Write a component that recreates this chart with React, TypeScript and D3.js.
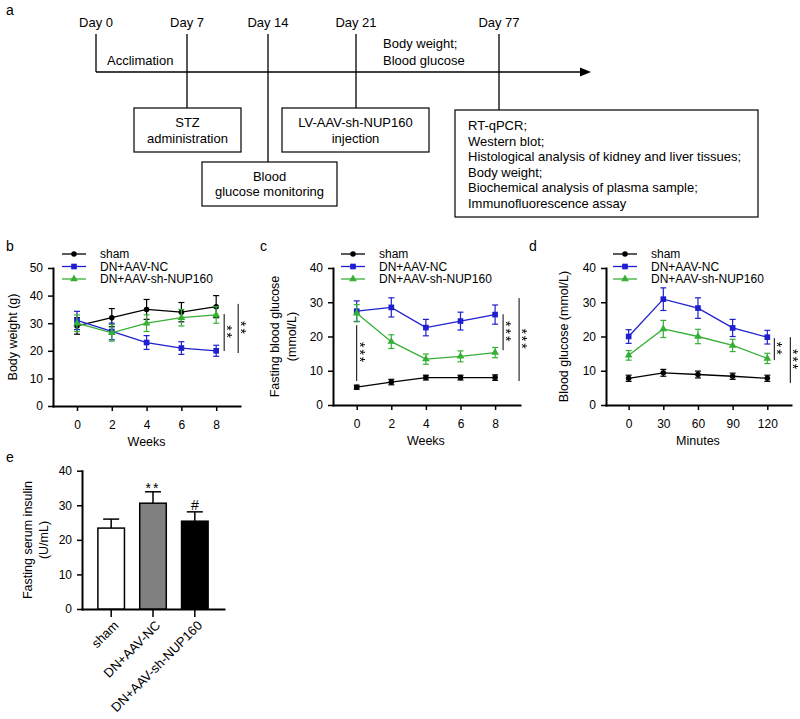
import React, { useRef, useEffect } from 'react';
import * as d3 from 'd3';

const FONT = '"Liberation Sans", Arial, Helvetica, sans-serif';
const W = 800;
const H = 719;

// groups shared by panels b-e
const groups = ['sham', 'DN+AAV-NC', 'DN+AAV-sh-NUP160'];
const groupColors = ['#000000', '#1f1fd0', '#35b035'];
const groupSymbols = [d3.symbolCircle, d3.symbolSquare, d3.symbolTriangle];
const symbolSizes = [24, 32, 26];

// panel b: body weight (g)
const weeks = [0, 2, 4, 6, 8];
const weightMean = [
  [29, 32, 35, 34, 36],
  [31, 27, 23, 21, 20],
  [30, 26.5, 30, 32, 33],
];
const weightErr = [
  [3, 3.3, 3.6, 3.5, 4],
  [3.3, 3, 2.5, 2.3, 2],
  [3, 3, 3, 3, 3],
];

// panel c: fasting blood glucose (mmol/L)
const fbgMean = [
  [5.2, 6.7, 8, 8, 8],
  [27.4, 28.5, 22.6, 24.5, 26.4],
  [26.8, 18.5, 13.4, 14.2, 15.3],
];
const fbgErr = [
  [0.6, 0.8, 0.7, 0.7, 0.8],
  [3, 2.8, 2.4, 2.6, 2.8],
  [2.5, 2, 1.5, 1.6, 1.5],
];

// panel d: blood glucose during tolerance test (mmol/L)
const minutes = [0, 30, 60, 90, 120];
const ogttMean = [
  [7.8, 9.4, 8.9, 8.4, 7.8],
  [20, 30.9, 28.3, 22.5, 19.8],
  [14.5, 22.2, 20, 17.4, 13.6],
];
const ogttErr = [
  [0.9, 1, 1, 0.9, 0.9],
  [2, 3.3, 3, 2.5, 2],
  [1.4, 2.5, 2.1, 1.8, 1.5],
];

// significance lines: x value, span (y values), label
const sigB = [
  { at: 8, from: 33.3, to: 19.9, label: '**' },
  { at: 8, from: 37, to: 19.2, label: '**' },
];
const sigC = [
  { at: 0, from: 23.3, to: 7, label: '***' },
  { at: 8, from: 26.5, to: 16, label: '***' },
  { at: 8, from: 31.2, to: 7, label: '***' },
];
const sigD = [
  { at: 120, from: 19.5, to: 13.1, label: '**' },
  { at: 120, from: 19.8, to: 6.4, label: '***' },
];

// panel e: fasting serum insulin (U/mL)
const insulinMean = [23.4, 30.6, 25.4];
const insulinErr = [2.6, 3.3, 2.7];
const insulinMarks = ['', '**', '#'];
const insulinTitle = ['Fasting serum insulin', '(U/mL)'];
const barFills = ['#ffffff', '#808080', '#000000'];

// panel a: timeline
const timelineDays = [0, 7, 14, 21, 77];
const dayLabels = ['Day 0', 'Day 7', 'Day 14', 'Day 21', 'Day 77'];
const boxTexts = [
  ['STZ', 'administration'],
  ['Blood', 'glucose monitoring'],
  ['LV-AAV-sh-NUP160', 'injection'],
  [
    'RT-qPCR;',
    'Western blot;',
    'Histological analysis of kidney and liver tissues;',
    'Body weight;',
    'Biochemical analysis of plasma sample;',
    'Immunofluorescence assay',
  ],
];

type Sel = d3.Selection<any, unknown, null, undefined>;

type LinePanel = {
  xVals: number[];
  means: number[][];
  errs: number[][];
  xDomain: [number, number];
  xRange: [number, number];
  yMax: number;
  yRange: [number, number];
  xTitle: string;
  yTitle: string[];
  yTitleX: number[];
  sig: { at: number; from: number; to: number; label: string }[];
  sigDx: number[];
  legendX: number;
};

const panelB: LinePanel = {
  xVals: weeks, means: weightMean, errs: weightErr,
  xDomain: [-1.38, 9.37], xRange: [53, 240], yMax: 50, yRange: [406, 268],
  xTitle: 'Weeks', yTitle: ['Body weight (g)'], yTitleX: [13],
  sig: sigB, sigDx: [8, 22], legendX: 62,
};
const panelC: LinePanel = {
  xVals: weeks, means: fbgMean, errs: fbgErr,
  xDomain: [-1.37, 9.44], xRange: [333, 520], yMax: 40, yRange: [405, 268],
  xTitle: 'Weeks', yTitle: ['Fasting blood glucose', '(mmol/L)'], yTitleX: [275, 292],
  sig: sigC, sigDx: [0, 8, 24], legendX: 341,
};
const panelD: LinePanel = {
  xVals: minutes, means: ogttMean, errs: ogttErr,
  xDomain: [-19.6, 140.5], xRange: [606, 791], yMax: 40, yRange: [405, 268],
  xTitle: 'Minutes', yTitle: ['Blood glucose (mmol/L)'], yTitleX: [564],
  sig: sigD, sigDx: [7, 23], legendX: 613,
};

function styleAxis(g: Sel) {
  g.attr('font-size', 12).attr('font-family', FONT);
  g.select('.domain').attr('stroke', '#000').attr('stroke-width', 2).attr('stroke-linecap', 'square');
  g.selectAll('.tick line').attr('stroke', '#000').attr('stroke-width', 1.5);
  g.selectAll('.tick text').attr('fill', '#000');
}

// rotated stars beside a significance line; grayscale filter avoids colour fringes
function drawStars(svg: Sel, x: number, y: number, label: string) {
  svg.append('text')
    .attr('transform', `translate(${x},${y}) rotate(90)`)
    .attr('text-anchor', 'middle')
    .attr('font-size', 14)
    .attr('letter-spacing', 2)
    .attr('fill', '#000')
    .style('filter', 'grayscale(1)')
    .text(label);
}

function drawLinePanel(svg: Sel, p: LinePanel) {
  const x = d3.scaleLinear().domain(p.xDomain).range(p.xRange);
  const y = d3.scaleLinear().domain([0, p.yMax]).range(p.yRange);

  const gy = svg.append('g')
    .attr('transform', `translate(${p.xRange[0]},0)`)
    .call(d3.axisLeft(y).tickValues(d3.range(0, p.yMax + 1, 10)).tickSize(5).tickPadding(5).tickSizeOuter(0));
  styleAxis(gy);

  const gx = svg.append('g')
    .attr('transform', `translate(0,${p.yRange[0]})`)
    .call(d3.axisBottom(x).tickValues(p.xVals).tickSize(5).tickPadding(9).tickSizeOuter(0));
  styleAxis(gx);

  const xs = p.xVals;
  svg.append('text')
    .attr('x', (x(xs[0]) + x(xs[xs.length - 1])) / 2)
    .attr('y', p.yRange[0] + 40)
    .attr('text-anchor', 'middle')
    .attr('font-size', 12.5)
    .text(p.xTitle);

  const midY = (p.yRange[0] + p.yRange[1]) / 2;
  p.yTitle.forEach((t, i) => {
    svg.append('text')
      .attr('transform', `translate(${p.yTitleX[i]},${midY}) rotate(-90)`)
      .attr('dy', '0.35em')
      .attr('text-anchor', 'middle')
      .attr('font-size', 12.5)
      .text(t);
  });

  const line = d3.line<number>().x((_, i) => x(xs[i])).y((d) => y(d));

  p.means.forEach((m, gi) => {
    const color = groupColors[gi];
    const g = svg.append('g');
    g.append('path').attr('d', line(m)!).attr('fill', 'none').attr('stroke', color).attr('stroke-width', 1.3);
    m.forEach((v, i) => {
      const e = p.errs[gi][i];
      const cx = x(xs[i]);
      g.append('line').attr('x1', cx).attr('x2', cx).attr('y1', y(v - e)).attr('y2', y(v + e))
        .attr('stroke', color).attr('stroke-width', 1.2);
      [v - e, v + e].forEach((c) => {
        g.append('line').attr('x1', cx - 3).attr('x2', cx + 3).attr('y1', y(c)).attr('y2', y(c))
          .attr('stroke', color).attr('stroke-width', 1.2);
      });
      g.append('path')
        .attr('d', d3.symbol(groupSymbols[gi], symbolSizes[gi])()!)
        .attr('transform', `translate(${cx},${y(v)})`)
        .attr('fill', color);
    });
  });

  p.sig.forEach((s, i) => {
    const lx = x(s.at) + p.sigDx[i];
    svg.append('line').attr('x1', lx).attr('x2', lx).attr('y1', y(s.from)).attr('y2', y(s.to))
      .attr('stroke', '#000').attr('stroke-width', 1);
    drawStars(svg, lx - 2, (y(s.from) + y(s.to)) / 2, s.label);
  });

  groups.forEach((name, gi) => {
    const ry = 254 + gi * 12.5;
    const color = groupColors[gi];
    svg.append('line').attr('x1', p.legendX).attr('x2', p.legendX + 24).attr('y1', ry).attr('y2', ry)
      .attr('stroke', color).attr('stroke-width', 1.3);
    svg.append('path')
      .attr('d', d3.symbol(groupSymbols[gi], symbolSizes[gi])()!)
      .attr('transform', `translate(${p.legendX + 12},${ry})`)
      .attr('fill', color);
    svg.append('text').attr('x', p.legendX + 38).attr('y', ry + 4.3).attr('font-size', 12).text(name);
  });
}

function drawBarPanel(svg: Sel) {
  const x = d3.scaleBand<string>().domain(groups).range([82, 224]).paddingInner(0.365).paddingOuter(0.38);
  const y = d3.scaleLinear().domain([0, 40]).range([609, 470.7]);

  const gy = svg.append('g')
    .attr('transform', 'translate(82,0)')
    .call(d3.axisLeft(y).tickValues(d3.range(0, 41, 10)).tickSize(5).tickPadding(5).tickSizeOuter(0));
  styleAxis(gy);

  const gx = svg.append('g')
    .attr('transform', 'translate(0,609)')
    .call(d3.axisBottom(x).tickSize(8).tickSizeOuter(0).tickFormat(() => ''));
  styleAxis(gx);

  groups.forEach((name, i) => {
    const bx = x(name)!;
    const bw = x.bandwidth();
    const cx = bx + bw / 2;
    const top = y(insulinMean[i]);
    const errTop = y(insulinMean[i] + insulinErr[i]);
    svg.append('line').attr('x1', cx).attr('x2', cx).attr('y1', top).attr('y2', errTop)
      .attr('stroke', '#000').attr('stroke-width', 1.5);
    svg.append('line').attr('x1', cx - 8).attr('x2', cx + 8).attr('y1', errTop).attr('y2', errTop)
      .attr('stroke', '#000').attr('stroke-width', 1.5);
    svg.append('rect').attr('x', bx).attr('y', top).attr('width', bw).attr('height', y(0) - top)
      .attr('fill', barFills[i]).attr('stroke', '#000').attr('stroke-width', 1.5);
    const mark = insulinMarks[i];
    if (mark) {
      svg.append('text')
        .attr('x', cx)
        .attr('y', errTop + (mark.includes('*') ? 1 : -2))
        .attr('text-anchor', 'middle')
        .attr('font-size', 14)
        .attr('letter-spacing', mark.includes('*') ? 2 : 0)
        .text(mark);
    }
    svg.append('text')
      .attr('transform', `translate(${cx + 5},${623}) rotate(-45)`)
      .attr('text-anchor', 'end')
      .attr('dy', '0.35em')
      .attr('font-size', 13)
      .text(name);
  });

  insulinTitle.forEach((s, i) => {
    svg.append('text')
      .attr('transform', `translate(${[28, 44][i]},540) rotate(-90)`)
      .attr('dy', '0.35em')
      .attr('text-anchor', 'middle')
      .attr('font-size', 12.5)
      .text(s);
  });
}

function drawTimeline(svg: Sel) {
  const dayX = d3.scaleOrdinal<number, number>().domain(timelineDays).range([96, 187, 268, 356, 499]);
  const lineBottom = [72, 108, 162, 108, 110];
  const g = svg.append('g').attr('font-size', 13);

  g.append('line').attr('x1', dayX(0)).attr('x2', 582).attr('y1', 72).attr('y2', 72)
    .attr('stroke', '#000').attr('stroke-width', 1.5);
  g.append('path').attr('d', 'M580,67.5L591,72L580,76.5Z').attr('fill', '#000');

  timelineDays.forEach((d, i) => {
    g.append('text').attr('x', dayX(d)).attr('y', 26.5).attr('text-anchor', 'middle').text(dayLabels[i]);
    g.append('line').attr('x1', dayX(d)).attr('x2', dayX(d)).attr('y1', 34).attr('y2', lineBottom[i])
      .attr('stroke', '#000').attr('stroke-width', 1.3);
  });

  g.append('text').attr('x', 107).attr('y', 64.5).text('Acclimation');
  g.append('text').attr('x', 383).attr('y', 48).text('Body weight;');
  g.append('text').attr('x', 383).attr('y', 64.5).text('Blood glucose');

  const boxes = [
    { x: 134, y: 108, w: 107, h: 44, center: true, lineY: [127, 142.5] },
    { x: 202, y: 162, w: 135, h: 44, center: true, lineY: [181, 196] },
    { x: 282, y: 108, w: 147, h: 44, center: true, lineY: [127, 142.5] },
    { x: 455, y: 110, w: 303, h: 107, center: false, lineY: [130, 145.6, 161.2, 176.8, 192.4, 208] },
  ];
  boxes.forEach((b, i) => {
    g.append('rect').attr('x', b.x).attr('y', b.y).attr('width', b.w).attr('height', b.h)
      .attr('fill', '#fff').attr('stroke', '#000').attr('stroke-width', 1.2);
    boxTexts[i].forEach((s, j) => {
      g.append('text')
        .attr('x', b.center ? b.x + b.w / 2 : b.x + 13)
        .attr('y', b.lineY[j])
        .attr('text-anchor', b.center ? 'middle' : 'start')
        .text(s);
    });
  });
}

const App: React.FC = () => {
  const ref = useRef<SVGSVGElement | null>(null);

  useEffect(() => {
    const svg = d3.select(ref.current) as unknown as Sel;
    svg.selectAll('*').remove();
    svg.attr('width', W).attr('height', H).attr('font-family', FONT);

    svg.append('rect').attr('width', W).attr('height', H).attr('fill', '#fff');

    const panelLabels: [string, number, number][] = [
      ['a', 6, 15], ['b', 6, 251], ['c', 260, 251], ['d', 529, 251], ['e', 6, 462],
    ];
    panelLabels.forEach(([t, px, py]) => {
      svg.append('text').attr('x', px).attr('y', py).attr('font-size', 14).text(t);
    });

    drawTimeline(svg);
    drawLinePanel(svg, panelB);
    drawLinePanel(svg, panelC);
    drawLinePanel(svg, panelD);
    drawBarPanel(svg);
  }, []);

  return <svg ref={ref} style={{ position: 'absolute', left: 0, top: 0 }} />;
};

export default App;
